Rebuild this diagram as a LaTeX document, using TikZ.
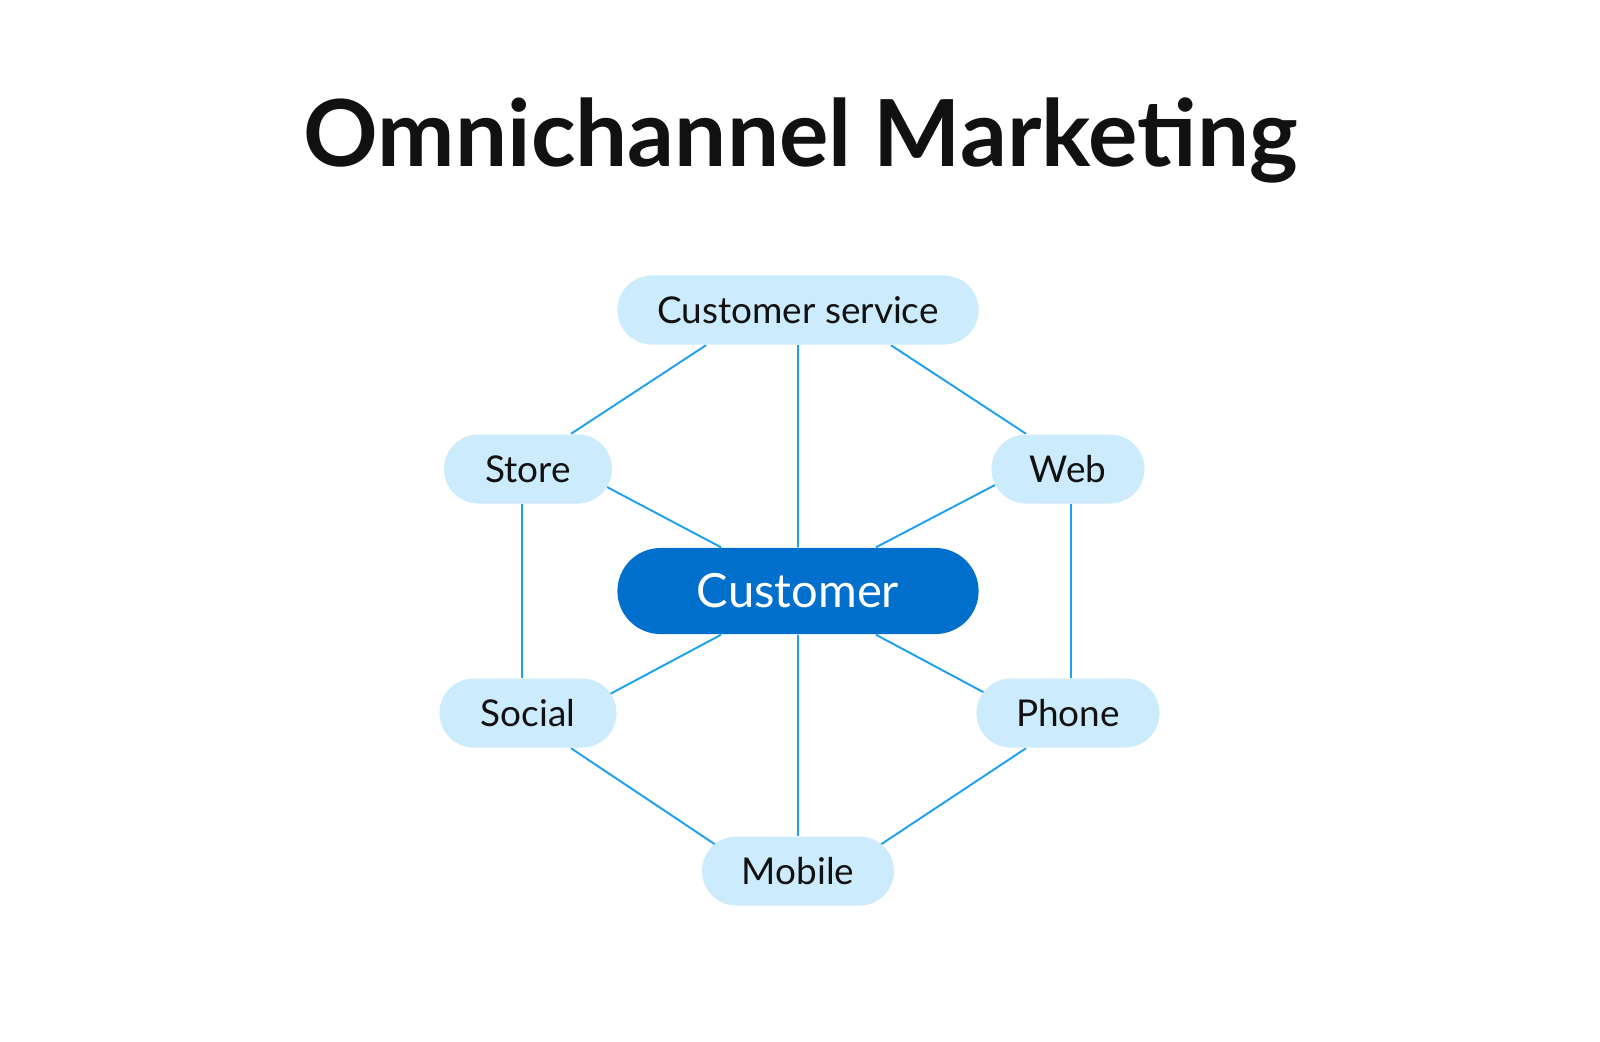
\documentclass[tikz,border=0pt]{standalone}
\usepackage{fontspec}
\setmainfont{Lato}
\usepackage{tikz}
\usetikzlibrary{positioning,calc,backgrounds,shapes.misc}
\definecolor{inkblack}{RGB}{17,17,17}
\definecolor{deepblue}{RGB}{0,112,204}
\definecolor{paleblue}{RGB}{204,235,252}
\definecolor{linkblue}{RGB}{30,160,240}
\tikzset{
  chan/.style={rounded rectangle,fill=paleblue,text=inkblack,minimum height=0.69cm,inner xsep=0pt,font=\fontsize{10.5}{12}\selectfont},
  hub/.style={rounded rectangle,fill=deepblue,text=white,minimum height=0.86cm,minimum width=3.61cm,inner xsep=0pt,font=\fontsize{13.4}{16}\selectfont},
  link/.style={linkblue,line width=0.55pt},
  ttl/.style={font=\fontsize{26.3}{32}\selectfont\bfseries,text=inkblack}
}
\begin{document}
\begin{tikzpicture}[x=0.01cm,y=-0.01cm]
      \useasboundingbox (0,0) rectangle (1600,1041);
      \node[ttl,anchor=base] (title) at (801,166) {Omnichannel Marketing};
      \node[hub] (customer) at (798,591) {Customer};
      \node[chan,minimum width=3.61cm] (cs) at (798,310) {Customer service};
      \node[chan,minimum width=1.68cm] (store) at (528,469) {Store};
      \node[chan,minimum width=1.53cm] (web) at (1068,469) {Web};
      \node[chan,minimum width=1.77cm] (social) at (528,713) {Social};
      \node[chan,minimum width=1.83cm] (phone) at (1068,713) {Phone};
      \node[chan,minimum width=1.92cm] (mobile) at (798,871) {Mobile};
      \begin{pgfonlayer}{background}
        \draw[link] ($(cs.south)+(-92,0)$) -- ($(store.north)+(43,0)$);
        \draw[link] ($(cs.south)+(93,0)$) -- ($(web.north)+(-42,0)$);
        \draw[link] (cs) -- (customer);
        \draw[link] ($(store)+(79,18)$) -- ($(customer.north)+(-77,0)$);
        \draw[link] ($(web)+(-73,16)$) -- ($(customer.north)+(78,0)$);
        \draw[link] ($(store.south)+(-6,0)$) -- ($(social.north)+(-6,0)$);
        \draw[link] ($(web.south)+(3,0)$) -- ($(phone.north)+(3,0)$);
        \draw[link] ($(customer.south)+(-77,0)$) -- ($(social)+(82,-19)$);
        \draw[link] ($(customer.south)+(78,0)$) -- ($(phone)+(-83,-20)$);
        \draw[link] (customer) -- (mobile);
        \draw[link] ($(social.south)+(43,0)$) -- ($(mobile)+(-82,-26)$);
        \draw[link] ($(phone.south)+(-42,0)$) -- ($(mobile)+(82,-26)$);
      \end{pgfonlayer}
    \end{tikzpicture}
\end{document}
